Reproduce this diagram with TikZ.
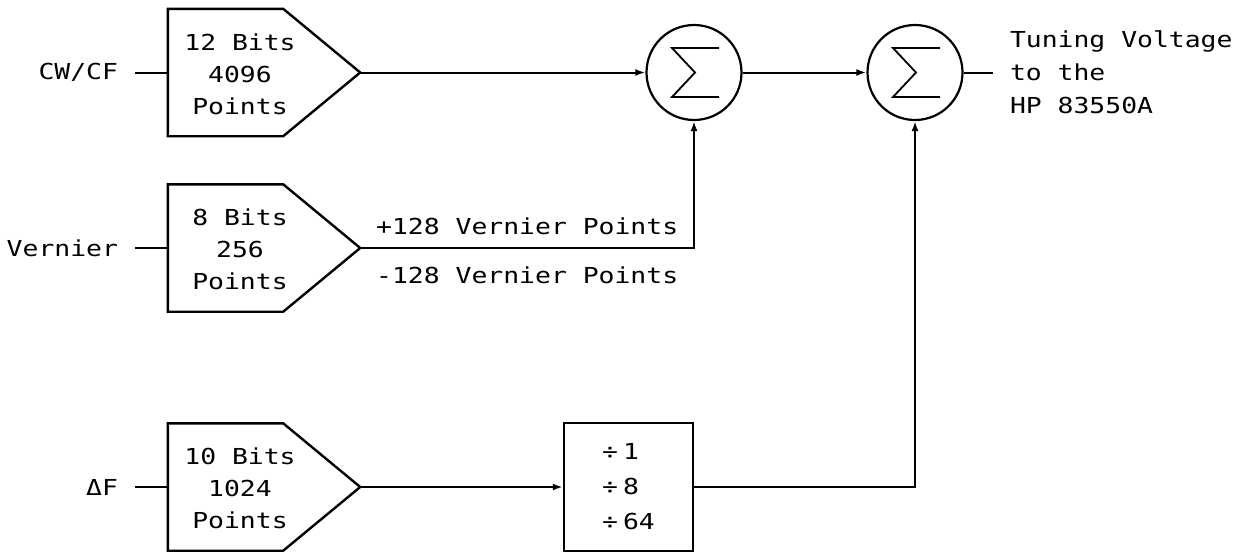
\documentclass[tikz,border=0pt]{standalone}
\usepackage{fontspec}
\newfontfamily\plotfont[FakeStretch=1.2]{DejaVu Sans Mono}
\usetikzlibrary{arrows.meta,calc}
\begin{document}
\begin{tikzpicture}[x=1pt,y=-1pt,
  txt/.style={font=\plotfont\fontsize{22}{32}\selectfont, inner sep=0pt},
  blk/.style={line width=2.4pt},
  wire/.style={line width=2pt},
  arr/.style={wire,-{Latex[length=10pt,width=7pt]}},
  lbl/.style={txt, anchor=east, outer xsep=17pt},
  frame/.style={rectangle, minimum width=115pt, minimum height=127pt, inner sep=0pt},
  sum/.style={circle, draw, line width=2.2pt, minimum size=95pt, inner sep=0pt}]
\useasboundingbox (0,0) rectangle (1241,552);

% --- input blocks ---
\node[frame] (b1) at (225.5,72.5) {};
\draw[blk] (b1.north west) -- (b1.north east) -- ($(b1.east)+(77,0)$) coordinate (b1tip)
  -- (b1.south east) -- (b1.south west) -- cycle;
\node[txt, align=center] (b1t) at (240,74) {12 Bits\\4096\\Points};

\node[frame] (b2) at (225.5,248) {};
\draw[blk] (b2.north west) -- (b2.north east) -- ($(b2.east)+(77,0)$) coordinate (b2tip)
  -- (b2.south east) -- (b2.south west) -- cycle;
\node[txt, align=center] (b2t) at (240,249.5) {8 Bits\\256\\Points};

\node[frame] (b3) at (225.5,487) {};
\draw[blk] (b3.north west) -- (b3.north east) -- ($(b3.east)+(77,0)$) coordinate (b3tip)
  -- (b3.south east) -- (b3.south west) -- cycle;
\node[txt, align=center] (b3t) at (240,488.5) {10 Bits\\1024\\Points};

% --- input labels ---
\node[lbl] (cw) at (135,72.5) {CW/CF};
\node[lbl] (vern) at (135,248) {Vernier};
\node[lbl] (df) at (135,487) {ΔF};
\draw[wire] (cw.east) -- (b1.west);
\draw[wire] (vern.east) -- (b2.west);
\draw[wire] (df.east) -- (b3.west);

% --- summing junctions ---
\node[sum] (s1) at (694,72.5) {};
\node[sum] (s2) at (915,72.5) {};
\draw[line width=1.8pt] ([shift={(25,-24.5)}]s1.center) -- ++(-47,0) -- ++(23,24.5) -- ++(-23,24.5) -- ++(47,0);
\draw[line width=1.8pt] ([shift={(25,-24.5)}]s2.center) -- ++(-47,0) -- ++(23,24.5) -- ++(-23,24.5) -- ++(47,0);

% --- divider ---
\node[draw, blk, minimum width=129pt, minimum height=128pt, inner sep=0pt, align=left,
  font=\plotfont\fontsize{22}{35}\selectfont] (div) at (628.5,487)
  {÷\kern5pt1\\÷\kern5pt8\\÷\kern5pt64};

% --- output ---
\node[txt, anchor=west, align=left, outer xsep=17pt, font=\plotfont\fontsize{22}{33}\selectfont]
  (out) at (993,72.5) {Tuning Voltage\\to the\\HP 83550A};

% --- connectors ---
\draw[arr] (b1tip) -- (s1.west);
\draw[arr] (s1.east) -- (s2.west);
\draw[wire] (s2.east) -- (out.west);
\draw[arr] (b2tip) -| (s1.south);
\draw[arr] (b3tip) -- (div.west);
\draw[arr] (div.east) -| (s2.south);

% --- vernier labels ---
\node[txt, anchor=west] (vplus) at (376,226) {+128 Vernier Points};
\node[txt, anchor=west] (vminus) at (376,275) {-128 Vernier Points};
\end{tikzpicture}
\end{document}
